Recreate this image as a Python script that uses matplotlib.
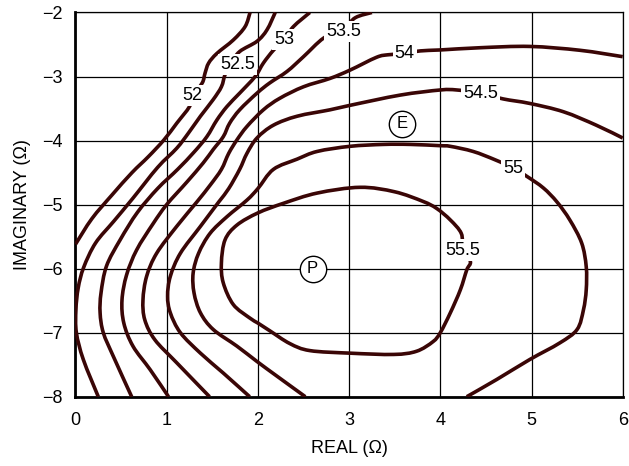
import matplotlib
matplotlib.use("Agg")
import matplotlib.pyplot as plt
from matplotlib.path import Path
from matplotlib.patches import PathPatch

plt.rcParams['font.family'] = ['Liberation Sans', 'DejaVu Sans']

# Contour levels (dB) and their traced paths (REAL, IMAGINARY)
levels = ["52", "52.5", "53", "53.5", "54", "54.5", "55", "55.5"]

c52_x = [1.914, 1.86, 1.73, 1.55, 1.46, 1.42, 1.39, 1.285, 1.25, 1.11, 0.97, 0.80, 0.62, 0.40, 0.18, 0.0]
c52_y = [-2.0, -2.22, -2.43, -2.64, -2.79, -2.95, -3.10, -3.30, -3.47, -3.73, -3.99, -4.25, -4.50, -4.85, -5.22, -5.62]

c525_x = [2.19, 2.10, 1.99, 1.80, 1.70, 1.64, 1.60, 1.51, 1.37, 1.24, 1.11, 0.90, 0.63, 0.42, 0.22, 0.09, 0.03, 0.005, 0.01, 0.086, 0.25]
c525_y = [-2.0, -2.27, -2.45, -2.61, -2.80, -2.97, -3.16, -3.36, -3.62, -3.88, -4.12, -4.42, -4.90, -5.26, -5.60, -5.98, -6.30, -6.64, -7.0, -7.42, -8.0]

c53_x = [2.57, 2.39, 2.29, 2.17, 2.06, 1.97, 1.80, 1.66, 1.55, 1.44, 1.30, 1.12, 0.90, 0.68, 0.49, 0.34, 0.28, 0.27, 0.305, 0.415, 0.616]
c53_y = [-2.0, -2.22, -2.42, -2.59, -2.79, -3.0, -3.26, -3.47, -3.68, -3.94, -4.18, -4.45, -4.75, -5.12, -5.55, -5.96, -6.38, -6.69, -7.0, -7.37, -8.0]

c535_x = [3.25, 3.07, 2.94, 2.72, 2.50, 2.32, 2.13, 1.99, 1.80, 1.69, 1.62, 1.51, 1.40, 1.22, 1.0, 0.85, 0.67, 0.56, 0.51, 0.53, 0.63, 0.82, 1.02]
c535_y = [-2.0, -2.08, -2.25, -2.40, -2.69, -2.92, -3.10, -3.26, -3.52, -3.73, -3.94, -4.14, -4.35, -4.65, -5.0, -5.30, -5.71, -6.10, -6.49, -6.85, -7.21, -7.58, -8.0]

c54_x = [6.0, 5.53, 4.98, 4.44, 4.0, 3.78, 3.61, 3.43, 3.30, 3.01, 2.79, 2.50, 2.24, 2.06, 1.88, 1.77, 1.68, 1.60, 1.48, 1.33, 1.11, 0.89, 0.78, 0.74, 0.76, 0.87, 1.11, 1.47]
c54_y = [-2.69, -2.59, -2.53, -2.55, -2.585, -2.60, -2.64, -2.66, -2.70, -2.90, -3.03, -3.16, -3.34, -3.52, -3.78, -3.99, -4.20, -4.45, -4.69, -4.96, -5.34, -5.76, -6.12, -6.49, -6.80, -7.11, -7.47, -8.0]

c545_x = [6.0, 5.71, 5.35, 4.98, 4.69, 4.44, 4.18, 4.0, 3.56, 3.01, 2.79, 2.43, 2.17, 1.99, 1.88, 1.80, 1.68, 1.57, 1.37, 1.15, 1.04, 1.01, 1.04, 1.15, 1.37, 1.62, 1.91]
c545_y = [-3.96, -3.76, -3.55, -3.42, -3.35, -3.26, -3.21, -3.21, -3.29, -3.45, -3.52, -3.62, -3.76, -3.96, -4.20, -4.45, -4.75, -4.96, -5.34, -5.76, -6.12, -6.43, -6.69, -7.0, -7.32, -7.63, -8.0]

c55_x = [2.52, 2.21, 1.99, 1.77, 1.51, 1.37, 1.30, 1.29, 1.35, 1.475, 1.66, 1.88, 2.0, 2.17, 2.43, 2.65, 3.01, 3.38, 3.67, 4.0, 4.11, 4.36, 4.60, 4.80, 4.95, 5.13, 5.28, 5.42, 5.55, 5.60, 5.60, 5.57, 5.50, 5.31, 4.98, 4.62, 4.29]
c55_y = [-8.0, -7.68, -7.45, -7.21, -6.95, -6.69, -6.38, -6.07, -5.76, -5.45, -5.19, -4.93, -4.75, -4.45, -4.29, -4.17, -4.09, -4.06, -4.06, -4.08, -4.09, -4.17, -4.30, -4.43, -4.56, -4.74, -4.96, -5.24, -5.60, -5.97, -6.33, -6.64, -6.95, -7.16, -7.42, -7.73, -8.0]

c555_x = [4.25, 4.23, 4.11, 3.96, 3.81, 3.50, 3.12, 2.65, 2.28, 2.0, 1.77, 1.64, 1.60, 1.62, 1.73, 1.91, 2.0, 2.13, 2.35, 2.57, 3.01, 3.49, 3.74, 3.92, 4.0, 4.11, 4.22, 4.29, 4.33]
c555_y = [-5.70, -5.45, -5.24, -5.06, -4.95, -4.80, -4.73, -4.82, -4.98, -5.13, -5.32, -5.55, -5.91, -6.22, -6.56, -6.77, -6.85, -6.97, -7.17, -7.28, -7.32, -7.34, -7.29, -7.14, -7.0, -6.69, -6.33, -6.02, -5.89]

contours_x = [c52_x, c525_x, c53_x, c535_x, c54_x, c545_x, c55_x, c555_x]
contours_y = [c52_y, c525_y, c53_y, c535_y, c54_y, c545_y, c55_y, c555_y]
contours_closed = [False, False, False, False, False, False, False, True]

# Label positions on each contour
label_x = [1.285, 1.78, 2.29, 2.94, 3.61, 4.44, 4.80, 4.25]
label_y = [-3.30, -2.81, -2.42, -2.30, -2.64, -3.26, -4.43, -5.71]

# Marked points
point_names = ["E", "P"]
point_x = [3.58, 2.60]
point_y = [-3.74, -6.0]

x_ticks = [0, 1, 2, 3, 4, 5, 6]
y_ticks = [-2, -3, -4, -5, -6, -7, -8]


def smooth_path(xs, ys, closed):
    """Catmull-Rom style smooth rendering through the traced points."""
    pts = list(zip(xs, ys))
    n = len(pts)
    if closed:
        pts_ext = [pts[-1]] + pts + [pts[0], pts[1]]
        nseg = n
    else:
        pts_ext = [pts[0]] + pts + [pts[-1]]
        nseg = n - 1
    verts = [pts_ext[1]]
    codes = [Path.MOVETO]
    for i in range(1, nseg + 1):
        p0, p1, p2, p3 = pts_ext[i - 1], pts_ext[i], pts_ext[i + 1], pts_ext[i + 2]
        c1 = (p1[0] + (p2[0] - p0[0]) / 6.0, p1[1] + (p2[1] - p0[1]) / 6.0)
        c2 = (p2[0] - (p3[0] - p1[0]) / 6.0, p2[1] - (p3[1] - p1[1]) / 6.0)
        verts += [c1, c2, p2]
        codes += [Path.CURVE4] * 3
    return Path(verts, codes)


fig = plt.figure(figsize=(6.29, 4.66), dpi=100)
ax = fig.add_axes([0.12, 0.1487, 0.87, 0.8245])

line_color = "#3a0606"
for xs, ys, closed in zip(contours_x, contours_y, contours_closed):
    patch = PathPatch(smooth_path(xs, ys, closed), fill=False, ec=line_color,
                      lw=2.6, capstyle='butt', joinstyle='round', zorder=3)
    ax.add_patch(patch)

for lx, ly, lab in zip(label_x, label_y, levels):
    ax.text(lx, ly, lab, fontsize=13, ha='center', va='center', color='black',
            zorder=5, bbox=dict(boxstyle='square,pad=0.12', fc='white', ec='none'))

for px, py, name in zip(point_x, point_y, point_names):
    ax.plot(px, py, 'o', ms=19, mfc='white', mec='black', mew=1.0, zorder=4)
    ax.text(px, py, name, fontsize=12, ha='center', va='center', zorder=6)

ax.set_xlim(0, 6)
ax.set_ylim(-8, -2)
ax.set_xticks(x_ticks)
ax.set_yticks(y_ticks)
ax.set_yticklabels(["\u2212%d" % abs(v) for v in y_ticks])
ax.tick_params(length=0, labelsize=13)
ax.tick_params(axis='x', pad=11)
ax.tick_params(axis='y', pad=9)
ax.grid(True, color='black', lw=0.9, zorder=1)
ax.set_axisbelow(True)
for s in ['left', 'bottom']:
    ax.spines[s].set_linewidth(2.0)
for s in ['top', 'right']:
    ax.spines[s].set_linewidth(0.9)

ax.set_xlabel("REAL (\u03a9)", fontsize=13, labelpad=8)
ax.set_ylabel("IMAGINARY (\u03a9)", fontsize=13, labelpad=8)

fig.savefig("out.png", dpi=100)
